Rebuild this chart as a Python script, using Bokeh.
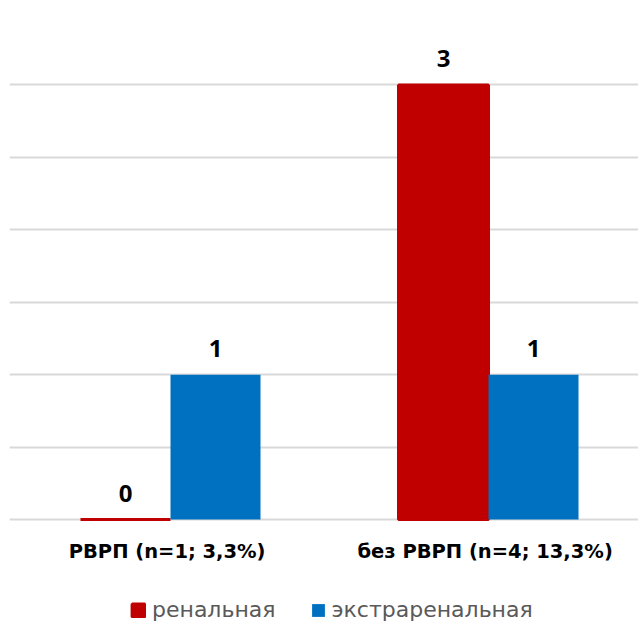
from bokeh.plotting import figure
from bokeh.models import ColumnDataSource, Range1d, FixedTicker, LabelSet, Legend, LegendItem
from bokeh.core.properties import value
from bokeh.embed import file_html
from bokeh.resources import INLINE

categories = ["РВРП (n=1;  3,3%)", "без РВРП (n=4;  13,3%)"]
series_names = ["ренальная", "экстраренальная"]
renal = [0, 3]
extrarenal = [1, 1]
colors = ["#C00000", "#0070C0"]

bar_w = 0.283
idx = list(range(len(categories)))

p = figure(width=638, height=622, output_backend="svg", toolbar_location=None,
           x_range=Range1d(-0.5063, 1.4717), y_range=Range1d(-0.711, 3.5),
           min_border_left=9, min_border_right=0, min_border_top=12, min_border_bottom=0)
p.outline_line_color = None
p.background_fill_color = "white"
p.border_fill_color = "white"

src_r = ColumnDataSource(dict(x=[i - bar_w / 2 for i in idx], top=renal, lab=[str(v) for v in renal]))
src_e = ColumnDataSource(dict(x=[i + bar_w / 2 for i in idx], top=extrarenal, lab=[str(v) for v in extrarenal]))

r1 = p.vbar(x="x", top="top", bottom=0, width=bar_w, source=src_r,
            fill_color=colors[0], line_color=colors[0], line_width=3)
r2 = p.vbar(x="x", top="top", bottom=0, width=bar_w, source=src_e,
            fill_color=colors[1], line_color=None)

for src in (src_r, src_e):
    p.add_layout(LabelSet(x="x", y="top", text="lab", source=src, y_offset=18,
                          text_align="center", text_baseline="alphabetic",
                          text_font=value("Open Sans"), text_font_style="bold",
                          text_font_size="24px", text_color="#000000"))

p.yaxis.visible = False
p.ygrid.ticker = FixedTicker(ticks=[0, 0.5, 1, 1.5, 2, 2.5, 3, 3.5])
p.ygrid.grid_line_color = "#d9d9d9"
p.ygrid.grid_line_width = 2
p.xgrid.visible = False

ax = p.xaxis[0]
ax.fixed_location = 0
ax.ticker = FixedTicker(ticks=idx)
ax.major_label_overrides = {i: c for i, c in zip(idx, categories)}
ax.axis_line_color = None
ax.major_tick_line_color = None
ax.minor_tick_line_color = None
ax.major_tick_out = 0
ax.major_tick_in = 0
ax.major_label_standoff = 20
ax.major_label_text_font = "DejaVu Sans"
ax.major_label_text_font_style = "bold"
ax.major_label_text_font_size = "19.5px"
ax.major_label_text_color = "#000000"

legend = Legend(items=[LegendItem(label=series_names[0], renderers=[r1]),
                       LegendItem(label=series_names[1], renderers=[r2])],
                orientation="horizontal", location=(121, 0),
                padding=0, margin=0, spacing=34, label_standoff=6,
                glyph_width=16, glyph_height=16,
                label_text_font="DejaVu Sans", label_text_font_size="22px",
                label_text_color="#595959",
                border_line_color=None, background_fill_alpha=0)
p.add_layout(legend, "center")

open("out.html", "w").write(file_html(p, INLINE))
